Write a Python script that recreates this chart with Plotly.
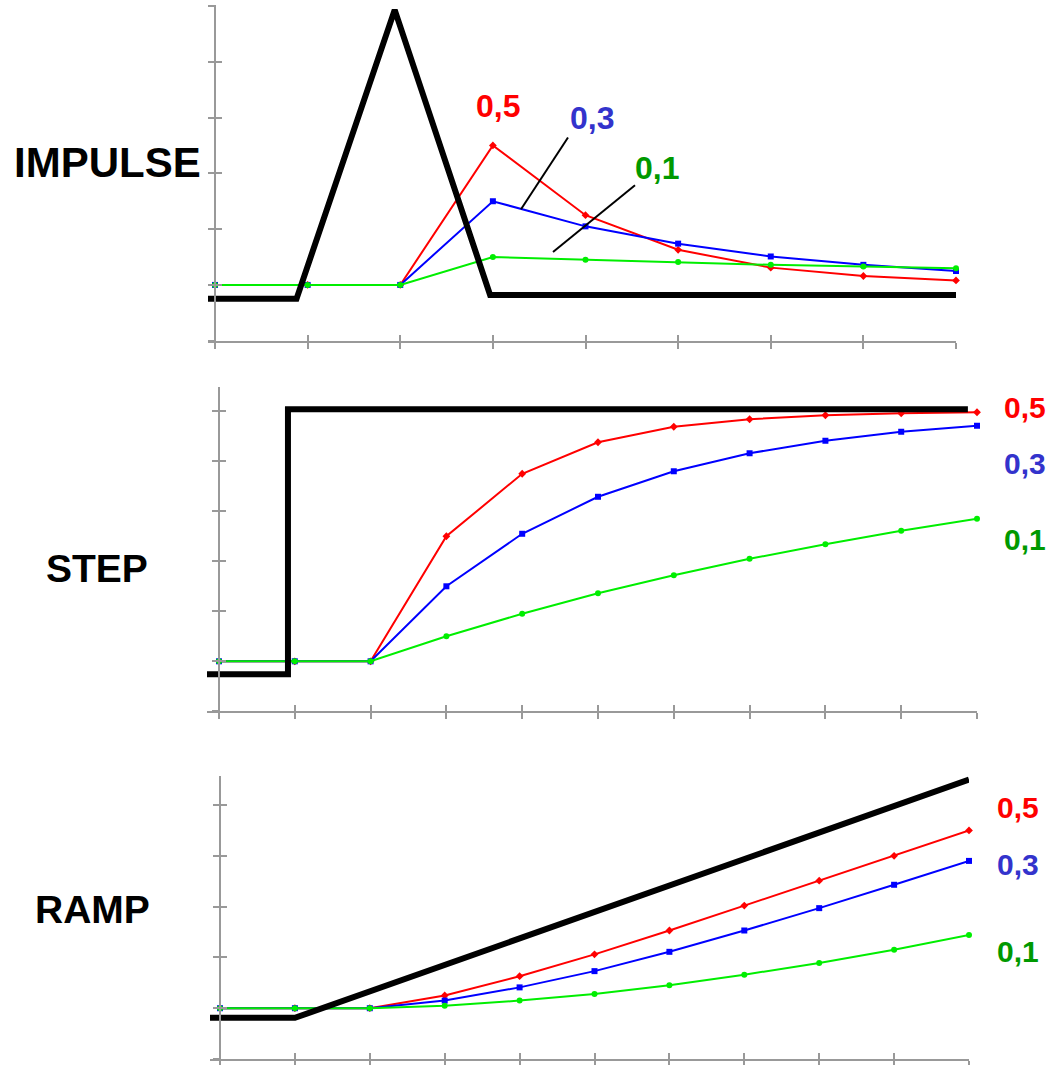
import plotly.graph_objects as go

# ---- data -------------------------------------------------------------
# Exponential smoothing responses (alpha = 0.5 / 0.3 / 0.1) to three inputs.
impulse_x = list(range(9))
impulse_red = [1, 1, 1, 3.5, 2.25, 1.63, 1.31, 1.16, 1.08]
impulse_blue = [1, 1, 1, 2.5, 2.05, 1.74, 1.51, 1.36, 1.25]
impulse_green = [1, 1, 1, 1.5, 1.45, 1.41, 1.36, 1.33, 1.30]
impulse_in_x = [-0.076, 0.88, 1.94, 2.97, 8.0]
impulse_in_y = [0.75, 0.75, 5.93, 0.82, 0.82]

step_x = list(range(11))
step_red = [1, 1, 1, 3.5, 4.75, 5.38, 5.69, 5.84, 5.92, 5.96, 5.98]
step_blue = [1, 1, 1, 2.5, 3.55, 4.29, 4.80, 5.16, 5.41, 5.59, 5.71]
step_green = [1, 1, 1, 1.5, 1.95, 2.36, 2.72, 3.05, 3.34, 3.61, 3.85]
step_in_x = [-0.158, 0.91, 0.91, 9.88]
step_in_y = [0.74, 0.74, 6.04, 6.04]

ramp_x = list(range(11))
ramp_red = [1, 1, 1, 1.25, 1.63, 2.06, 2.53, 3.02, 3.51, 4.00, 4.50]
ramp_blue = [1, 1, 1, 1.15, 1.41, 1.73, 2.11, 2.53, 2.97, 3.43, 3.90]
ramp_green = [1, 1, 1, 1.05, 1.15, 1.28, 1.45, 1.66, 1.89, 2.15, 2.44]
ramp_in_x = [-0.134, 1.0, 10.0]
ramp_in_y = [0.81, 0.81, 5.5]

alpha_labels = ["0,5", "0,3", "0,1"]
panel_titles = ["IMPULSE", "STEP", "RAMP"]

# ---- layout helpers -----------------------------------------------------
W, H = 1046, 1065


def fx(p):
    return p / W


def fy(p):
    return 1 - p / H


LINE_COLORS = ["#ff0000", "#0000ff", "#00ee00"]
TEXT_COLORS = ["#ff0000", "#3333cc", "#009900"]
MARKERS = ["diamond", "square", "circle"]
AXIS_GRAY = "#999999"
FONT = "Liberation Sans, Arial, sans-serif"

fig = go.Figure()

# panel geometry: (x-domain px left/right, x range, y-axis px, y-domain px bottom/top, y range, y ticks, x ticks)
panels = [
    dict(xd=(208, 956), xr=(-0.0756, 8.0), yax=215, yd=(342, 5), yr=(0, 6.018),
         yt=list(range(7)), xt=list(range(9))),
    dict(xd=(207, 977), xr=(-0.158, 10.0), yax=219, yd=(714, 388), yr=(0, 6.494),
         yt=list(range(7)), xt=list(range(11))),
    dict(xd=(210, 969), xr=(-0.1335, 10.0), yax=220, yd=(1063, 779), yr=(0, 5.57),
         yt=list(range(6)), xt=list(range(11))),
]

series = [
    (impulse_x, [impulse_red, impulse_blue, impulse_green], impulse_in_x, impulse_in_y),
    (step_x, [step_red, step_blue, step_green], step_in_x, step_in_y),
    (ramp_x, [ramp_red, ramp_blue, ramp_green], ramp_in_x, ramp_in_y),
]

layout = dict(
    width=W, height=H, autosize=False,
    margin=dict(l=0, r=0, t=0, b=0),
    paper_bgcolor="white", plot_bgcolor="white",
    showlegend=False,
)

for i, (pan, (xs, ys, bx, by)) in enumerate(zip(panels, series)):
    n = i + 1
    xa = "x" if n == 1 else f"x{n}"
    ya = "y" if n == 1 else f"y{n}"
    xo, yo = n + 3, n + 3  # overlay axes carrying the inward half of each tick
    xo_name, yo_name = f"x{xo}", f"y{yo}"

    for vals, col, sym in zip(ys, LINE_COLORS, MARKERS):
        fig.add_trace(go.Scatter(
            x=xs, y=vals, mode="lines+markers", xaxis=xa, yaxis=ya,
            line=dict(color=col, width=2),
            marker=dict(symbol=sym, size=6, color=col),
            cliponaxis=False, hoverinfo="skip"))
    fig.add_trace(go.Scatter(
        x=bx, y=by, mode="lines", xaxis=xa, yaxis=ya,
        line=dict(color="black", width=6), hoverinfo="skip"))

    common_x = dict(range=list(pan["xr"]), tickmode="array", tickvals=pan["xt"],
                    showticklabels=False, showgrid=False, zeroline=False,
                    ticklen=6, tickwidth=2, tickcolor=AXIS_GRAY, fixedrange=True)
    common_y = dict(range=list(pan["yr"]), tickmode="array", tickvals=pan["yt"],
                    showticklabels=False, showgrid=False, zeroline=False,
                    ticklen=6, tickwidth=2, tickcolor=AXIS_GRAY, fixedrange=True)

    layout[f"xaxis{'' if n == 1 else n}"] = dict(
        common_x, domain=[fx(pan["xd"][0]), fx(pan["xd"][1])], anchor=ya,
        ticks="outside", showline=True, linecolor=AXIS_GRAY, linewidth=2)
    layout[f"yaxis{'' if n == 1 else n}"] = dict(
        common_y, domain=[fy(pan["yd"][0]), fy(pan["yd"][1])], anchor="free",
        position=fx(pan["yax"]), ticks="outside", showline=True,
        linecolor=AXIS_GRAY, linewidth=2)
    layout[f"xaxis{xo}"] = dict(common_x, overlaying=xa, anchor=ya, ticks="inside",
                                showline=False)
    layout[f"yaxis{yo}"] = dict(common_y, overlaying=ya, anchor="free",
                                position=fx(pan["yax"]), ticks="inside",
                                showline=False)
    # invisible trace so the overlay axes get drawn
    fig.add_trace(go.Scatter(x=[pan["xr"][0]], y=[0], xaxis=xo_name, yaxis=yo_name,
                             mode="markers", marker=dict(opacity=0), hoverinfo="skip"))

fig.update_layout(**layout)

annotations = []


def label(text, x, y, size, color, xanchor="center"):
    annotations.append(dict(
        text=f"<b>{text}</b>", x=fx(x), y=fy(y), xref="paper", yref="paper",
        xanchor=xanchor, yanchor="middle", showarrow=False,
        font=dict(family=FONT, size=size, color=color)))


# panel names
label(panel_titles[0], 107, 163, 42, "black")
label(panel_titles[1], 97, 571, 39, "black")
label(panel_titles[2], 92, 913, 39, "black")

# alpha labels, impulse panel
label(alpha_labels[0], 498, 106, 32, TEXT_COLORS[0])
label(alpha_labels[1], 592, 118, 32, TEXT_COLORS[1])
label(alpha_labels[2], 657, 169, 32, TEXT_COLORS[2])

# alpha labels, step panel
for txt, col, yy in zip(alpha_labels, TEXT_COLORS, [409, 465, 542]):
    label(txt, 1002, yy, 30, col, xanchor="left")

# alpha labels, ramp panel
for txt, col, yy in zip(alpha_labels, TEXT_COLORS, [811, 868, 955]):
    label(txt, 995, yy, 30, col, xanchor="left")

fig.update_layout(annotations=annotations)

# leader lines from the impulse labels to their curves
for (x0, y0, x1, y1) in [(521, 210, 568, 138), (553, 253, 635, 186)]:
    fig.add_shape(type="line", xref="paper", yref="paper",
                  x0=fx(x0), y0=fy(y0), x1=fx(x1), y1=fy(y1),
                  line=dict(color="black", width=2))

fig.write_html("out.html")
